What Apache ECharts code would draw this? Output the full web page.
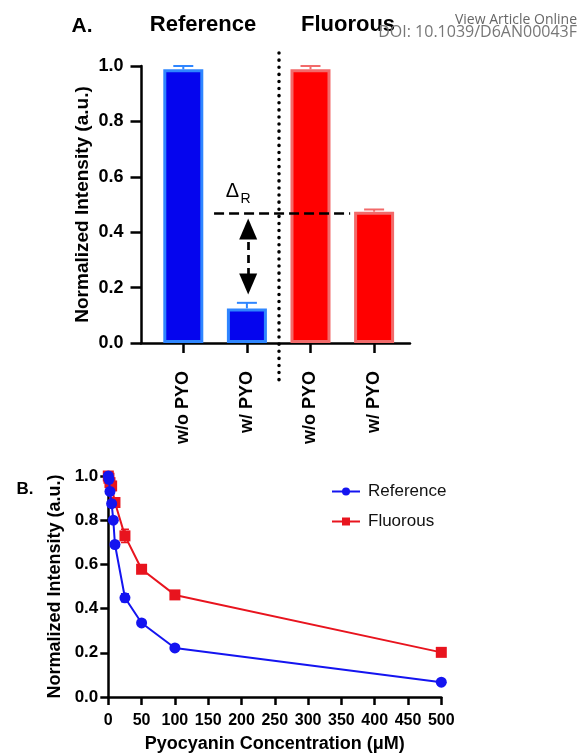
<!DOCTYPE html>
<html><head><meta charset="utf-8">
<script src="https://cdn.jsdelivr.net/npm/echarts@6/dist/echarts.min.js"></script>
<style>html,body{margin:0;padding:0;background:#fff}#c{width:579px;height:754px}</style>
</head><body><div id="c"></div>
<script>
// ---------- Panel A data ----------
const barLabels = ['w/o PYO', 'w/ PYO', 'w/o PYO', 'w/ PYO'];
const barGroups = ['Reference', 'Reference', 'Fluorous', 'Fluorous'];
const barVals = [0.988, 0.125, 0.988, 0.474];
const barErr = [0.012, 0.02, 0.012, 0.008];
const yTicksA = [0, 0.2, 0.4, 0.6, 0.8, 1.0];

// ---------- Panel B data ----------
const refConc = [0, 1, 2.5, 5, 7.5, 10, 25, 50, 100, 500];
const refVals = [1.0, 0.985, 0.93, 0.875, 0.80, 0.69, 0.449, 0.335, 0.222, 0.067];
const refErr  = [0.005, 0.01, 0.012, 0.01, 0.01, 0.012, 0.018, 0.01, 0.008, 0.006];
const fluConc = [0, 1, 2.5, 5, 10, 25, 50, 100, 500];
const fluVals = [1.0, 0.99, 0.97, 0.955, 0.88, 0.729, 0.578, 0.462, 0.202];
const fluErr  = [0.005, 0.01, 0.015, 0.015, 0.02, 0.03, 0.01, 0.01, 0.008];
const xTicksB = [0, 50, 100, 150, 200, 250, 300, 350, 400, 450, 500];

const FONT = 'Liberation Sans, Arial, sans-serif';
const BLUE = '#0505ee', BLUE_B = '#2f86ff';
const RED = '#ff0000', RED_B = '#f26a6a';
const LBLUE = '#1414f0', LRED = '#e8141e';

const chart = echarts.init(document.getElementById('c'), null, {renderer: 'canvas'});

const barData = barVals.map((v, i) => ({
  value: v,
  itemStyle: barGroups[i] === 'Reference'
    ? {color: BLUE, borderColor: BLUE_B, borderWidth: 3}
    : {color: RED, borderColor: RED_B, borderWidth: 3}
}));

function errTopRender(params, api) {
  const i = api.value(0);
  const p0 = api.coord([i, api.value(1)]);
  const p1 = api.coord([i, api.value(2)]);
  const col = barGroups[params.dataIndex] === 'Reference' ? BLUE_B : RED_B;
  const w = 10;
  return {type: 'group', children: [
    {type: 'line', shape: {x1: p0[0], y1: p0[1], x2: p1[0], y2: p1[1]}, style: {stroke: col, lineWidth: 2}},
    {type: 'line', shape: {x1: p1[0] - w, y1: p1[1], x2: p1[0] + w, y2: p1[1]}, style: {stroke: col, lineWidth: 2}}
  ]};
}
function makeErrRender(col) {
  return function (params, api) {
    const x = api.value(0);
    const lo = api.coord([x, api.value(1)]);
    const hi = api.coord([x, api.value(2)]);
    const w = 4;
    return {type: 'group', children: [
      {type: 'line', shape: {x1: lo[0], y1: lo[1], x2: hi[0], y2: hi[1]}, style: {stroke: col, lineWidth: 1.5}},
      {type: 'line', shape: {x1: lo[0] - w, y1: lo[1], x2: lo[0] + w, y2: lo[1]}, style: {stroke: col, lineWidth: 1.5}},
      {type: 'line', shape: {x1: hi[0] - w, y1: hi[1], x2: hi[0] + w, y2: hi[1]}, style: {stroke: col, lineWidth: 1.5}}
    ]};
  };
}

const axisLineStyle = {color: '#000', width: 2.5};
const boldLabel = (size) => ({color: '#000', fontFamily: FONT, fontWeight: 'bold', fontSize: size});

const option = {
  animation: false,
  backgroundColor: '#fff',
  grid: [
    {left: 151.5, right: 173.1, top: 66, bottom: 411},
    {left: 141, right: 169, top: 38.3, bottom: 754 - 398.4},
    {left: 108.3, right: 137.7, top: 476, bottom: 56.7}
  ],
  xAxis: [
    {gridIndex: 0, type: 'category', data: barLabels.map((l, i) => String(i)),
     axisLine: {show: false},
     axisTick: {show: true, alignWithLabel: true, length: 10, lineStyle: axisLineStyle},
     axisLabel: Object.assign(boldLabel(18), {rotate: 90, margin: 28, interval: 0,
       formatter: (v, i) => barLabels[i]})},
    {gridIndex: 1, type: 'value', min: -0.667, max: 3.567,
     axisLine: {show: true, onZero: true, lineStyle: axisLineStyle},
     axisTick: {show: false}, axisLabel: {show: false}, splitLine: {show: false}},
    {gridIndex: 2, type: 'value', min: 0, max: 500, interval: 50,
     axisLine: {show: true, onZero: false, lineStyle: axisLineStyle},
     axisTick: {show: true, length: 8, lineStyle: axisLineStyle},
     axisLabel: Object.assign(boldLabel(16), {margin: 16}),
     splitLine: {show: false},
     name: 'Pyocyanin Concentration (\u03BCM)', nameLocation: 'middle', nameGap: 38,
     nameTextStyle: boldLabel(18)}
  ],
  yAxis: [
    {gridIndex: 0, type: 'value', min: 0, max: 1, interval: 0.2, offset: 10,
     axisLine: {show: true, lineStyle: axisLineStyle},
     axisTick: {show: true, length: 11, lineStyle: axisLineStyle},
     axisLabel: Object.assign(boldLabel(18), {margin: 18, formatter: v => v.toFixed(1)}),
     splitLine: {show: false},
     name: 'Normalized Intensity (a.u.)', nameLocation: 'middle', nameGap: 49,
     nameTextStyle: boldLabel(19)},
    {gridIndex: 1, type: 'value', min: -0.2, max: 1.1, show: false},
    {gridIndex: 2, type: 'value', min: 0, max: 1, interval: 0.2,
     axisLine: {show: true, lineStyle: axisLineStyle},
     axisTick: {show: true, length: 8, lineStyle: axisLineStyle},
     axisLabel: Object.assign(boldLabel(17), {margin: 10, formatter: v => v.toFixed(1)}),
     splitLine: {show: false},
     name: 'Normalized Intensity (a.u.)', nameLocation: 'middle', nameGap: 44,
     nameTextStyle: boldLabel(18)}
  ],
  legend: {
    data: ['Reference', 'Fluorous'], orient: 'vertical', left: 326, top: 478,
    itemWidth: 28, itemHeight: 10, itemGap: 13,
    textStyle: {fontFamily: FONT, fontSize: 17, color: '#111', padding: [0, 0, 0, 3]}
  },
  series: [
    {type: 'bar', name: 'bars', xAxisIndex: 0, yAxisIndex: 0, barWidth: 40, data: barData, z: 2},
    {type: 'custom', name: 'barErr', xAxisIndex: 0, yAxisIndex: 0, renderItem: errTopRender, z: 3,
     data: barVals.map((v, i) => [i, v, v + barErr[i]])},
    {type: 'line', name: 'annot', xAxisIndex: 1, yAxisIndex: 1, data: [], clip: false, silent: true,
     markLine: {silent: true, symbol: ['none', 'none'], label: {show: false}, animation: false,
       data: [
         [{coord: [1.5, 1.047]}, {coord: [1.5, -0.134]}].map(p => Object.assign(p, {
           lineStyle: {color: '#000', width: 3.5, type: [0.1, 7], cap: 'round'}})),
         [{coord: [0.483, 0.468], lineStyle: {color: '#000', width: 2.7, type: [10, 5]}},
          {coord: [2.625, 0.468]}],
         [{coord: [1.02, 0.4116], symbol: 'triangle', symbolSize: [18, 21],
           lineStyle: {color: '#000', width: 2.7, type: [8, 5]}, itemStyle: {color: '#000'}},
          {coord: [1.02, 0.213], symbol: 'triangle', symbolSize: [18, 21], itemStyle: {color: '#000'}}]
       ]}},
    {type: 'custom', name: 'refErr', xAxisIndex: 2, yAxisIndex: 2, renderItem: makeErrRender(LBLUE), z: 1,
     data: refConc.map((c, i) => [c, refVals[i] - refErr[i], refVals[i] + refErr[i]])},
    {type: 'custom', name: 'fluErr', xAxisIndex: 2, yAxisIndex: 2, renderItem: makeErrRender(LRED), z: 1,
     data: fluConc.map((c, i) => [c, fluVals[i] - fluErr[i], fluVals[i] + fluErr[i]])},
    {type: 'line', name: 'Fluorous', xAxisIndex: 2, yAxisIndex: 2, z: 3,
     data: fluConc.map((c, i) => [c, fluVals[i]]),
     symbol: 'rect', symbolSize: 11, showAllSymbol: true, clip: false,
     lineStyle: {color: LRED, width: 2}, itemStyle: {color: LRED}},
    {type: 'line', name: 'Reference', xAxisIndex: 2, yAxisIndex: 2, z: 4,
     data: refConc.map((c, i) => [c, refVals[i]]),
     symbol: 'circle', symbolSize: 11, showAllSymbol: true, clip: false,
     lineStyle: {color: LBLUE, width: 2}, itemStyle: {color: LBLUE}}
  ],
  graphic: [
    {type: 'text', x: 82, y: 26, style: {text: 'A.', fontFamily: FONT, fontWeight: 'bold', fontSize: 21, fill: '#000', align: 'center', verticalAlign: 'middle'}},
    {type: 'text', x: 203, y: 25, style: {text: 'Reference', fontFamily: FONT, fontWeight: 'bold', fontSize: 22, fill: '#000', align: 'center', verticalAlign: 'middle'}},
    {type: 'text', x: 348, y: 25, style: {text: 'Fluorous', fontFamily: FONT, fontWeight: 'bold', fontSize: 22, fill: '#000', align: 'center', verticalAlign: 'middle'}},
    {type: 'text', x: 577, y: 20, style: {text: 'View Article Online', fontFamily: 'Open Sans, sans-serif', fontSize: 14, fill: '#666', align: 'right', verticalAlign: 'middle'}},
    {type: 'text', x: 577, y: 32, style: {text: 'DOI: 10.1039/D6AN00043F', fontFamily: 'Open Sans, sans-serif', fontSize: 16, fill: '#777', align: 'right', verticalAlign: 'middle'}},
    {type: 'text', x: 232.5, y: 191, style: {text: '\u0394', fontFamily: FONT, fontSize: 20, fill: '#000', align: 'center', verticalAlign: 'middle'}},
    {type: 'text', x: 245.5, y: 199, style: {text: 'R', fontFamily: FONT, fontSize: 14, fill: '#000', align: 'center', verticalAlign: 'middle'}},
    {type: 'text', x: 25, y: 489, style: {text: 'B.', fontFamily: FONT, fontWeight: 'bold', fontSize: 17, fill: '#000', align: 'center', verticalAlign: 'middle'}}
  ]
};
chart.setOption(option);
</script>
</body></html>
